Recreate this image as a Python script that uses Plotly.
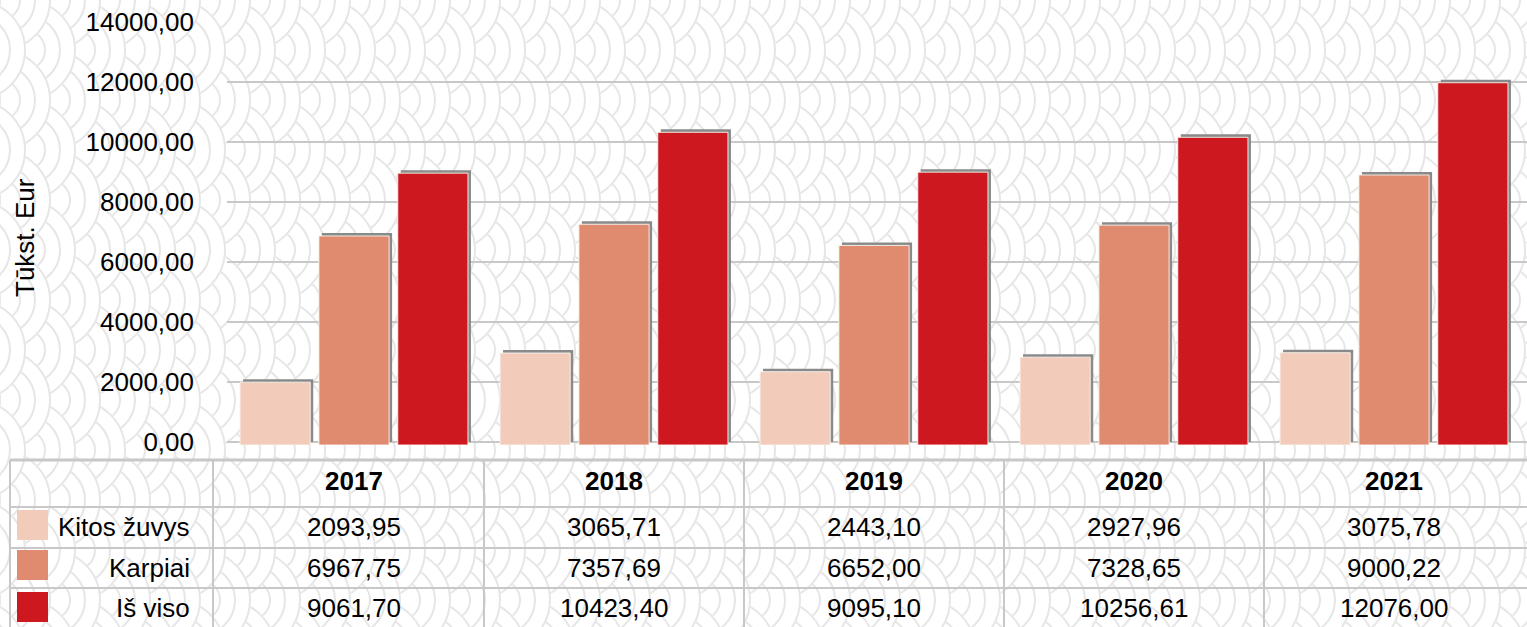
import base64
import plotly.graph_objects as go

years = ["2017", "2018", "2019", "2020", "2021"]
kitos_zuvys = [2093.95, 3065.71, 2443.10, 2927.96, 3075.78]
karpiai = [6967.75, 7357.69, 6652.00, 7328.65, 9000.22]
is_viso = [9061.70, 10423.40, 9095.10, 10256.61, 12076.00]
series_names = ["Kitos žuvys", "Karpiai", "Iš viso"]
series_values = [kitos_zuvys, karpiai, is_viso]
colors = ["#F2CBBB", "#E08A70", "#CC181E"]

W, H = 1527, 627
L, R, T, B = 224, 0, 22, 182
PW, PH = W - L - R, H - T - B
FONT = "Liberation Sans, Arial, sans-serif"


def px_x(x):
    return (x - L) / PW


def px_y(y):
    return (H - B - y) / PH


def fmt(v):
    return f"{v:.2f}".replace(".", ",")


def pattern_svg(w, h, r=50, step=15):
    # background texture: overlapping concentric arcs
    rings = "".join(
        f'<circle r="{rr}" fill="none" stroke="#e6e6e6" stroke-width="2"/>'
        for rr in range(r, 8, -step)
    )
    defs = f'<defs><g id="s"><circle r="{r + 1}" fill="white"/>{rings}</g></defs>'
    uses = []
    hs = r / 2
    ncol = int(w / hs) + 3
    nrow = int(h / (2 * r)) + 3
    for j in range(ncol, -3, -1):
        off = r if j % 2 else 0
        for i in range(-1, nrow):
            uses.append(f'<use xlink:href="#s" x="{j * hs}" y="{i * 2 * r + off}"/>')
    svg = (f'<svg xmlns="http://www.w3.org/2000/svg" xmlns:xlink="http://www.w3.org/1999/xlink" '
           f'width="{w}" height="{h}" viewBox="0 0 {w} {h}"><rect width="{w}" height="{h}" fill="white"/>'
           f'{defs}{"".join(uses)}</svg>')
    return "data:image/svg+xml;base64," + base64.b64encode(svg.encode()).decode()


fig = go.Figure()

# shadow bars (xy, drawn first), real bars on x2/y2 shifted 3px
for name, vals in zip(series_names, series_values):
    fig.add_trace(go.Bar(x=years, y=vals, marker=dict(color="#8a8a8a", line=dict(width=0)),
                         showlegend=False, hoverinfo="skip", xaxis="x", yaxis="y"))
for name, vals, c in zip(series_names, series_values, colors):
    fig.add_trace(go.Bar(x=years, y=vals, name=name,
                         marker=dict(color=c, line=dict(color="rgba(250,245,235,0.9)", width=1)),
                         showlegend=False, xaxis="x2", yaxis="y2"))

dx, dy = 3 / PW, 3 / PH
xr = [-0.5, len(years) - 0.5]
fig.update_layout(
    width=W, height=H,
    margin=dict(l=L, r=R, t=T, b=B, pad=0),
    paper_bgcolor="white", plot_bgcolor="rgba(0,0,0,0)",
    font=dict(family=FONT, size=26, color="black"),
    separators=", ",
    barmode="group", bargap=0.09, bargroupgap=0.11,
    xaxis=dict(type="category", range=xr, domain=[dx, 1], showticklabels=False, showgrid=False,
               zeroline=False, showline=False, ticks=""),
    yaxis=dict(domain=[dy, 1], range=[0, 14000], dtick=2000, tickformat=".2f",
               showgrid=True, gridcolor="#c8c8c8", gridwidth=2,
               zeroline=True, zerolinecolor="#c8c8c8", zerolinewidth=2,
               ticks="", ticklabelstandoff=32, tickfont=dict(size=26)),
    xaxis2=dict(type="category", range=xr, domain=[0, 1 - dx], anchor="y2", showticklabels=False,
                showgrid=False, zeroline=False, showline=False, ticks=""),
    yaxis2=dict(domain=[0, 1 - dy], anchor="x2", range=[0, 14000], showticklabels=False,
                showgrid=False, zeroline=False, ticks=""),
)

fig.add_layout_image(dict(source=pattern_svg(W, H), xref="paper", yref="paper",
                          x=px_x(0), y=px_y(0), sizex=W / PW, sizey=H / PH,
                          xanchor="left", yanchor="top", sizing="stretch", layer="below"))

# y axis title
fig.add_annotation(text="Tūkst. Eur", textangle=-90, xref="paper", yref="paper",
                   x=px_x(25), y=px_y(238), xanchor="center", yanchor="middle",
                   showarrow=False, font=dict(size=26))

# data table
line_col = "#c8c8c8"
table_top, row_lines = 460, [507, 548, 588]
fig.add_shape(type="line", xref="paper", yref="paper", x0=px_x(10), x1=px_x(W),
              y0=px_y(table_top), y1=px_y(table_top), line=dict(color=line_col, width=3))
for yl in row_lines:
    fig.add_shape(type="line", xref="paper", yref="paper", x0=px_x(10), x1=px_x(W),
                  y0=px_y(yl), y1=px_y(yl), line=dict(color=line_col, width=2))
for xl in [10, 213]:
    fig.add_shape(type="line", xref="paper", yref="paper", x0=px_x(xl), x1=px_x(xl),
                  y0=px_y(table_top), y1=px_y(H), line=dict(color=line_col, width=2))
for k in range(1, len(years)):
    fig.add_shape(type="line", xref="x2", yref="paper", x0=k - 0.5, x1=k - 0.5,
                  y0=px_y(table_top), y1=px_y(H), line=dict(color=line_col, width=2))

for i, yr in enumerate(years):
    fig.add_annotation(text=f"<b>{yr}</b>", xref="x2", yref="paper", x=i, y=px_y(481),
                       xanchor="center", yanchor="middle", showarrow=False, font=dict(size=26))

row_centers = [527, 568, 608]
swatch_tops = [510, 550, 592]
for name, vals, c, yc, st in zip(series_names, series_values, colors, row_centers, swatch_tops):
    fig.add_shape(type="rect", xref="paper", yref="paper", x0=px_x(17), x1=px_x(48),
                  y0=px_y(st), y1=px_y(st + 30), fillcolor=c, line=dict(width=0))
    fig.add_annotation(text=name, xref="paper", yref="paper", x=px_x(192), y=px_y(yc),
                       xanchor="right", yanchor="middle", showarrow=False, font=dict(size=26))
    for i, v in enumerate(vals):
        fig.add_annotation(text=fmt(v), xref="x2", yref="paper", x=i, y=px_y(yc),
                           xanchor="center", yanchor="middle", showarrow=False,
                           font=dict(size=26))

fig.write_html("out.html", config={"displayModeBar": False},
               post_script="document.body.style.margin='0';")
